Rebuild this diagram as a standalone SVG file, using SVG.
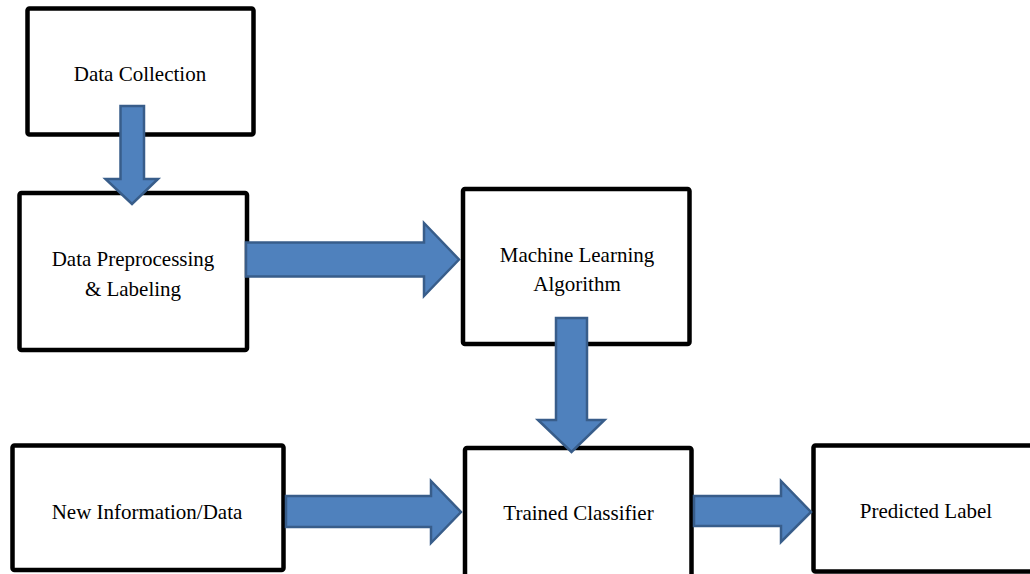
<svg xmlns="http://www.w3.org/2000/svg" width="1030" height="574" viewBox="0 0 1030 574">
  <style>
    .box { fill: #ffffff; stroke: #000000; stroke-width: 4.5; stroke-linejoin: round; }
    .lbl { font-family: "Liberation Serif", "Times New Roman", serif; font-size: 21px; fill: #000000; text-anchor: middle; }
    .arr { fill: #4F81BD; stroke: #385D8A; stroke-width: 2.5; stroke-linejoin: miter; }
  </style>
  <rect width="1030" height="574" fill="#ffffff"/>
  <g id="node-data-collection">
    <rect class="box" x="27.5" y="8.5" width="226" height="126" rx="2"/>
    <text class="lbl" x="140" y="81">Data Collection</text>
  </g>
  <g id="node-preprocessing">
    <rect class="box" x="19.5" y="193" width="227.5" height="157" rx="2"/>
    <text class="lbl" x="133" y="266">Data Preprocessing</text>
    <text class="lbl" x="133" y="296">&amp; Labeling</text>
  </g>
  <g id="node-ml-algorithm">
    <rect class="box" x="463" y="189" width="226.5" height="155" rx="2"/>
    <text class="lbl" x="577" y="262">Machine Learning</text>
    <text class="lbl" x="577" y="291">Algorithm</text>
  </g>
  <g id="node-trained-classifier">
    <rect class="box" x="465" y="448" width="226.5" height="140" rx="2"/>
    <text class="lbl" x="578.5" y="520">Trained Classifier</text>
  </g>
  <g id="node-new-data">
    <rect class="box" x="12.5" y="445.5" width="271" height="124.5" rx="2"/>
    <text class="lbl" x="147" y="519">New Information/Data</text>
  </g>
  <g id="node-predicted-label">
    <rect class="box" x="813.5" y="445.5" width="230" height="126" rx="2"/>
    <text class="lbl" x="926" y="518">Predicted Label</text>
  </g>
  <g id="connectors">
    <polygon class="arr" points="120.5,106 144,106 144,179 158,179 132,204 105.5,179 120.5,179"/>
    <polygon class="arr" points="246,242.5 424,242.5 424,223 459,259.5 424,296 424,276.5 246,276.5"/>
    <polygon class="arr" points="556,318 587,318 587,420 604.5,420 571.5,452 538,420 556,420"/>
    <polygon class="arr" points="286,496 431,496 431,481 461,512 431,543 431,527 286,527"/>
    <polygon class="arr" points="694,496 781,496 781,481 811,512 781,542 781,526 694,526"/>
  </g>
</svg>
